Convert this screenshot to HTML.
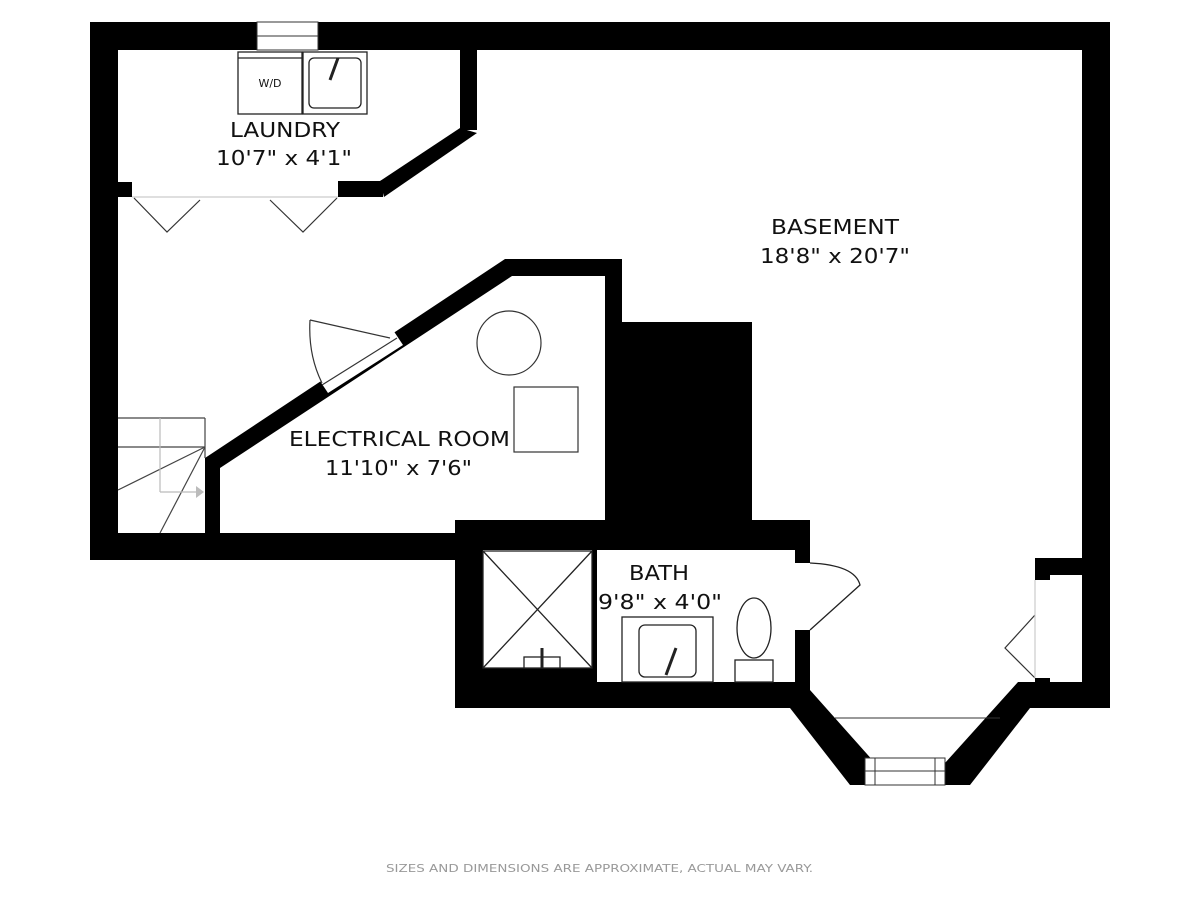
<!DOCTYPE html>
<html><head><meta charset="utf-8"><style>
html,body{margin:0;padding:0;background:#fff;width:1200px;height:900px;overflow:hidden}
svg{display:block}
text{font-family:"DejaVu Sans","Liberation Sans",sans-serif;fill:#111}
</style></head><body>
<svg width="1200" height="900" viewBox="0 0 1200 900">
<g fill="#000">
<rect x="90" y="22" width="1020" height="28"/>
<rect x="90" y="22" width="28" height="538"/>
<rect x="1082" y="22" width="28" height="686"/>
<rect x="90" y="533" width="370" height="27"/>
<rect x="460" y="50" width="17" height="80"/>
<polygon points="460,128 477,133 384,197 380,181"/>
<rect x="338" y="181" width="45" height="16"/>
<rect x="118" y="182" width="14" height="15"/>
<polygon points="205,458 505,259 622,259 622,276 512,276 220,468"/>
<rect x="605" y="259" width="17" height="262"/>
<rect x="205" y="458" width="15" height="80"/>
<rect x="622" y="322" width="130" height="218"/>
<rect x="455" y="520" width="355" height="30"/>
<rect x="455" y="520" width="28" height="188"/>
<rect x="455" y="668" width="142" height="40"/>
<rect x="455" y="682" width="355" height="26"/>
<rect x="592" y="550" width="5" height="132"/>
<rect x="795" y="520" width="15" height="43"/>
<rect x="795" y="630" width="15" height="60"/>
<polygon points="790,708 810,690 875,763 945,763 1018,682 1040,682 1040,708 1030,708 970,785 850,785"/>
<rect x="1020" y="682" width="90" height="26"/>
<rect x="1035" y="558" width="47" height="17"/>
<rect x="1035" y="558" width="15" height="22"/>
<rect x="1035" y="678" width="15" height="12"/>
</g>
<g fill="#fff" stroke="#333" stroke-width="1">
<rect x="257" y="22" width="61" height="28"/>
<line x1="257" y1="36" x2="318" y2="36"/>
<rect x="865" y="758" width="80" height="27"/>
<line x1="865" y1="771" x2="945" y2="771"/>
<line x1="875" y1="758" x2="875" y2="785"/>
<line x1="935" y1="758" x2="935" y2="785"/>
</g>
<line x1="835" y1="718" x2="1000" y2="718" stroke="#333" stroke-width="1"/>
<g fill="#fff" stroke="#222" stroke-width="1.3">
<rect x="238" y="52" width="64" height="62"/>
<line x1="238" y1="58" x2="302" y2="58"/>
<rect x="303" y="52" width="64" height="62"/>
<rect x="309" y="58" width="52" height="50" rx="5"/>
<line x1="330" y1="80" x2="338" y2="58" stroke-width="3"/>
</g>
<text x="270" y="87" font-size="11" text-anchor="middle">W/D</text>
<g fill="none" stroke="#333" stroke-width="1.2">
<line x1="132" y1="197" x2="338" y2="197" stroke="#ccc"/>
<polyline points="134,198 167,232 200,200"/>
<polyline points="270,200 303,232 337,198"/>
</g>
<polygon points="318,378 393,330 403,345 328,393" fill="#fff"/>
<g fill="none" stroke="#333" stroke-width="1.2">
<line x1="322" y1="385" x2="397" y2="338"/>
<line x1="310" y1="320" x2="390" y2="338"/>
<path d="M310,320 Q308,355 322,383"/>
<circle cx="509" cy="343" r="32"/>
<rect x="514" y="387" width="64" height="65" fill="#fff"/>
</g>
<g fill="none" stroke="#444" stroke-width="1.2">
<line x1="118" y1="418" x2="205" y2="418"/>
<line x1="205" y1="418" x2="205" y2="458"/>
<line x1="118" y1="447" x2="205" y2="447"/>
<line x1="205" y1="447" x2="118" y2="490"/>
<line x1="205" y1="447" x2="160" y2="533"/>
<line x1="160" y1="418" x2="160" y2="492" stroke="#bbb"/>
<line x1="160" y1="492" x2="198" y2="492" stroke="#bbb"/>
</g>
<polygon points="196,486 204,492 196,498" fill="#bbb"/>
<g fill="none" stroke="#222" stroke-width="1.3">
<rect x="483" y="551" width="109" height="117" fill="#fff"/>
<line x1="483" y1="551" x2="592" y2="668"/>
<line x1="592" y1="551" x2="483" y2="668"/>
<rect x="524" y="657" width="36" height="11" fill="#fff"/>
<line x1="542" y1="648" x2="542" y2="668" stroke-width="3"/>
<rect x="622" y="617" width="91" height="65"/>
<rect x="639" y="625" width="57" height="52" rx="6"/>
<line x1="666" y1="675" x2="676" y2="648" stroke-width="3"/>
<ellipse cx="754" cy="628" rx="17" ry="30"/>
<rect x="735" y="660" width="38" height="22"/>
<path d="M810,563 Q855,565 860,585 L810,630"/>
</g>
<g fill="none" stroke="#333" stroke-width="1.2">
<polyline points="1035,615 1005,648 1035,678"/>
<line x1="1035" y1="580" x2="1035" y2="678" stroke="#ccc"/>
</g>
<g font-size="20" lengthAdjust="spacingAndGlyphs">
<text x="230" y="137" textLength="110" lengthAdjust="spacingAndGlyphs">LAUNDRY</text>
<text x="216" y="165" textLength="136" lengthAdjust="spacingAndGlyphs">10'7" x 4'1"</text>
<text x="771" y="234" textLength="128" lengthAdjust="spacingAndGlyphs">BASEMENT</text>
<text x="760" y="263" textLength="150" lengthAdjust="spacingAndGlyphs">18'8" x 20'7"</text>
<text x="289" y="446" textLength="221" lengthAdjust="spacingAndGlyphs">ELECTRICAL ROOM</text>
<text x="325" y="475" textLength="147" lengthAdjust="spacingAndGlyphs">11'10" x 7'6"</text>
<text x="629" y="580" textLength="60" lengthAdjust="spacingAndGlyphs">BATH</text>
<text x="598" y="609" textLength="124" lengthAdjust="spacingAndGlyphs">9'8" x 4'0"</text>
</g>
<text x="386" y="872" font-size="11" textLength="427" lengthAdjust="spacingAndGlyphs" style="fill:#999">SIZES AND DIMENSIONS ARE APPROXIMATE, ACTUAL MAY VARY.</text>
</svg>
</body></html>
